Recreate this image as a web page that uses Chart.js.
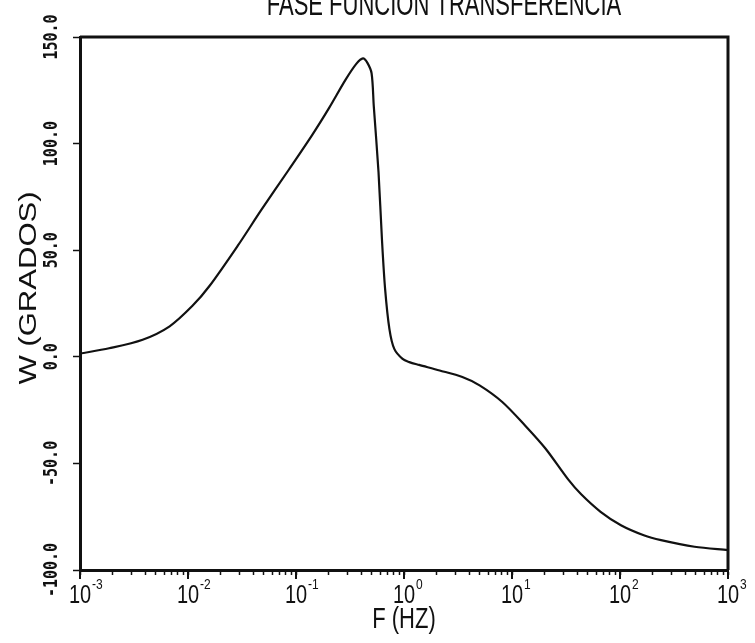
<!DOCTYPE html>
<html>
<head>
<meta charset="utf-8">
<title>Fase función transferencia</title>
<script src="https://cdn.jsdelivr.net/npm/chart.js@4.4.1/dist/chart.umd.min.js"></script>
<style>
  html, body { margin: 0; padding: 0; background: #fff; overflow: hidden; }
  #wrap { position: relative; width: 755px; height: 643px; }
</style>
</head>
<body>
<div id="wrap"><canvas id="fase" width="755" height="643"></canvas></div>
<script>
/* Fase de la función de transferencia: W (grados) frente a F (Hz), eje X logarítmico. */

const FREQ_HZ = [
  0.001, 0.00186, 0.0038, 0.00676, 0.011, 0.0158, 0.0288, 0.0479, 0.0851, 0.141,
  0.204, 0.288, 0.363, 0.417, 0.457, 0.501, 0.525, 0.581, 0.625, 0.668,
  0.733, 0.813, 0.97, 1.12, 1.38, 2.14, 3.47, 5.01, 8.13, 13.2,
  20.4, 33.1, 43.7, 66.1, 102, 166, 240, 490, 1000,
];
const FASE_GRADOS = [
  1.5, 4.0, 8.0, 14.3, 23.9, 33.2, 52, 69, 87.5, 104,
  117, 130, 137.5, 140, 138, 133, 117.6, 86.5, 55, 32,
  13, 3.7, -1, -2.5, -3.8, -6.4, -9.5, -13.4, -21.2, -32.2,
  -43, -57.5, -64.5, -72.7, -79, -83.7, -86, -89.1, -90.7,
];

const X_DECADAS = [-3, -2, -1, 0, 1, 2, 3];
const Y_TICKS = [-100, -50, 0, 50, 100, 150];
const Y_LABELS = ['-100.0', '-50.0', '0.0', '50.0', '100.0', '150.0'];

const TITULO = 'FASE FUNCION TRANSFERENCIA';
const X_TITULO = 'F (HZ)';
const Y_TITULO = 'W (GRADOS)';

const INK = '#111';
const SANS = '"Liberation Sans", Arial, sans-serif';

// marcas del eje X: 1..9 por década, y la última década sola
const X_TICKS = [];
X_DECADAS.forEach((d, i) => {
  if (i === X_DECADAS.length - 1) { X_TICKS.push({ value: Math.pow(10, d), major: true }); return; }
  for (let m = 1; m <= 9; m++) X_TICKS.push({ value: m * Math.pow(10, d), major: m === 1 });
});

// texto estirado como en el trazador
function texto(ctx, str, x, y, font, sx, sy, rot, align) {
  ctx.save();
  ctx.translate(x, y);
  if (rot) ctx.rotate(rot);
  ctx.scale(sx, sy);
  ctx.font = font;
  ctx.textAlign = align || 'center';
  ctx.textBaseline = 'alphabetic';
  ctx.fillText(str, 0, 0);
  ctx.restore();
}

// marco, marcas largas de década, rótulos y títulos
const rotulos = {
  id: 'rotulos',
  afterDraw(chart) {
    const { ctx, chartArea: a, scales: { x, y } } = chart;
    ctx.save();
    ctx.strokeStyle = INK;
    ctx.fillStyle = INK;

    // lados superior y derecho del marco
    ctx.lineWidth = 3;
    ctx.beginPath();
    ctx.moveTo(a.left, a.top);
    ctx.lineTo(a.right, a.top);
    ctx.lineTo(a.right, a.bottom);
    ctx.stroke();

    // décadas: marca un poco más larga
    ctx.lineWidth = 2;
    X_DECADAS.forEach((d) => {
      const px = x.getPixelForValue(Math.pow(10, d));
      ctx.beginPath();
      ctx.moveTo(px, a.bottom);
      ctx.lineTo(px, a.bottom + 9);
      ctx.stroke();
    });

    // rótulos X: 10 con exponente
    ctx.font = '20px ' + SANS;
    const w10 = ctx.measureText('10').width;
    X_DECADAS.forEach((d) => {
      const px = x.getPixelForValue(Math.pow(10, d));
      texto(ctx, '10', px, 603, '20px ' + SANS, 1, 1.3);
      texto(ctx, String(d), px + w10 / 2 + 1, 589, '12px ' + SANS, 1, 1.2, 0, 'left');
    });

    // rótulos Y girados
    Y_TICKS.forEach((v, i) => {
      const py = y.getPixelForValue(v);
      ctx.save();
      ctx.translate(52, py);
      ctx.rotate(-Math.PI / 2);
      ctx.scale(1, 1.3);
      ctx.font = 'bold 15px "DejaVu Sans Mono", monospace';
      ctx.textAlign = 'center';
      ctx.textBaseline = 'middle';
      ctx.fillText(Y_LABELS[i], 0, 0);
      ctx.restore();
    });

    // títulos de los ejes
    texto(ctx, X_TITULO, (a.left + a.right) / 2, 628, '22px ' + SANS, 1, 1.3);
    texto(ctx, Y_TITULO, 36, 288, '23px ' + SANS, 1.35, 1, -Math.PI / 2);

    // título, recortado por el borde superior
    texto(ctx, TITULO, 444, 15, '22px ' + SANS, 1, 1.5);

    ctx.restore();
  },
};

new Chart(document.getElementById('fase'), {
  type: 'line',
  data: {
    datasets: [{
      data: FREQ_HZ.map((f, i) => ({ x: f, y: FASE_GRADOS[i] })),
      borderColor: INK,
      borderWidth: 2.2,
      pointRadius: 0,
      fill: false,
      tension: 0.3,
    }],
  },
  options: {
    responsive: false,
    animation: false,
    devicePixelRatio: 1,
    layout: { padding: { top: 37, right: 27, left: 0, bottom: 0 } },
    plugins: { legend: { display: false }, tooltip: { enabled: false }, title: { display: false } },
    scales: {
      x: {
        type: 'logarithmic',
        min: 0.001,
        max: 1000,
        afterBuildTicks: (s) => { s.ticks = X_TICKS.map((t) => ({ ...t })); },
        afterFit: (s) => { s.height = 73; },
        ticks: { display: false },
        grid: { drawOnChartArea: false, drawTicks: true, tickLength: 5, tickColor: INK, tickWidth: 1.5 },
        border: { display: true, color: INK, width: 3 },
      },
      y: {
        type: 'linear',
        min: -100,
        max: 150,
        afterBuildTicks: (s) => { s.ticks = Y_TICKS.map((v) => ({ value: v })); },
        afterFit: (s) => { s.width = 80; },
        ticks: { display: false },
        grid: { drawOnChartArea: false, drawTicks: true, tickLength: 7, tickColor: INK, tickWidth: 1.5 },
        border: { display: true, color: INK, width: 3 },
      },
    },
  },
  plugins: [rotulos],
});
</script>
</body>
</html>
